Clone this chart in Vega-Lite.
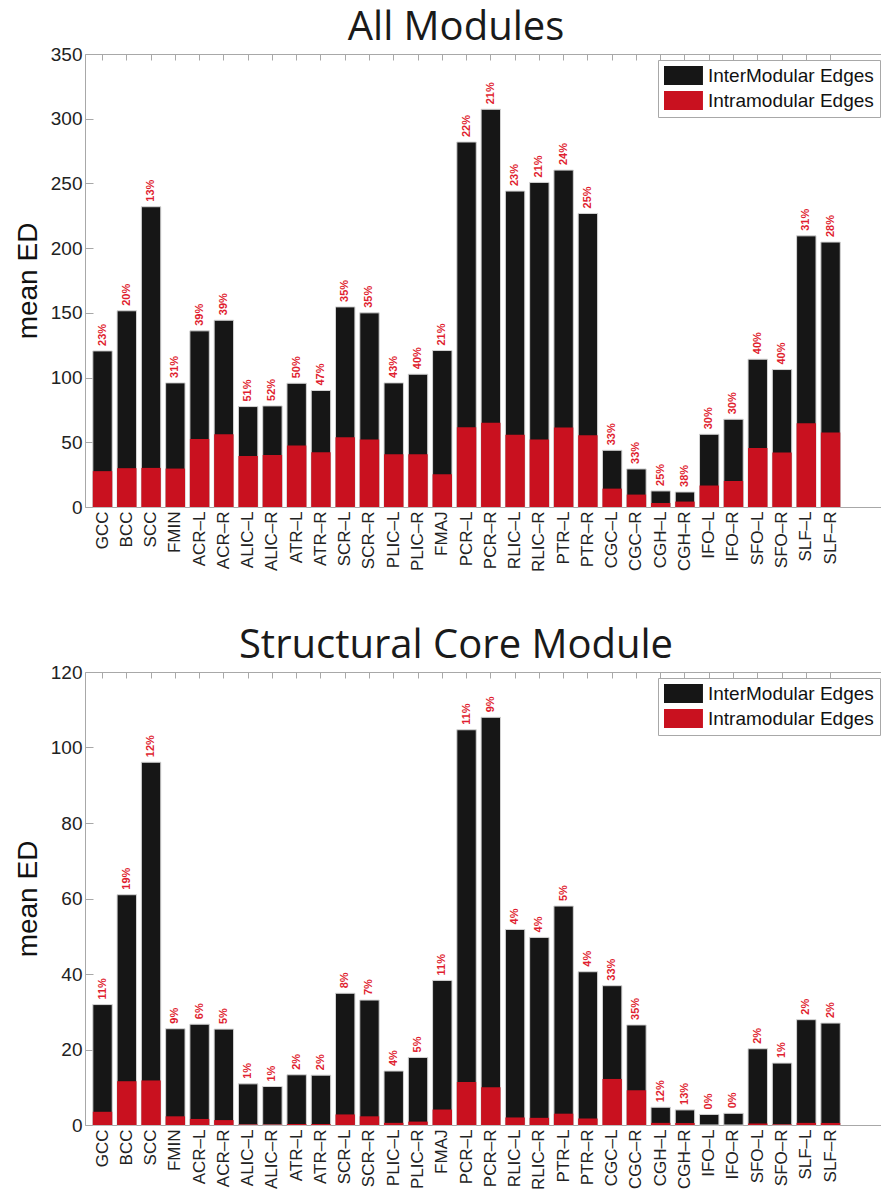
{
  "$schema": "https://vega.github.io/schema/vega-lite/v6.json",
  "background": "white",
  "padding": {"left": 14, "top": 8, "right": 0, "bottom": 0},
  "spacing": 54,
  "config": {
    "view": {"stroke": null},
    "font": "Liberation Sans",
    "title": {"font": "Open Sans", "fontSize": 40, "fontWeight": "normal", "color": "#1a1a1a", "anchor": "middle", "dx": -27, "offset": -3, "baseline": "alphabetic"},
    "axis": {"domainColor": "#a8a8a8", "tickColor": "#a8a8a8", "labelColor": "#222222", "titleColor": "#111111", "grid": false, "labelFont": "Liberation Sans", "titleFont": "Liberation Sans"},
    "legend": {"orient": "none", "legendX": 573, "legendY": 6, "title": null, "direction": "vertical", "symbolType": "M-1,-1H3.1V1H-1Z", "symbolSize": 361, "symbolStrokeWidth": 0, "labelFontSize": 19, "labelFont": "Liberation Sans", "labelColor": "#111111", "labelOffset": 25, "labelLimit": 400, "rowPadding": 5, "padding": 6, "strokeColor": "#a8a8a8", "fillColor": "white"}
  },
  "resolve": {"scale": {"color": "independent", "x": "independent", "y": "independent"}, "legend": {"color": "independent"}},
  "datasets": {
    "all": [
      {"tract": "GCC", "total": 120.6, "intra": 27.7, "pct": "23%"},
      {"tract": "BCC", "total": 151.6, "intra": 30.0, "pct": "20%"},
      {"tract": "SCC", "total": 232.0, "intra": 30.2, "pct": "13%"},
      {"tract": "FMIN", "total": 95.9, "intra": 29.7, "pct": "31%"},
      {"tract": "ACR–L", "total": 136.1, "intra": 52.6, "pct": "39%"},
      {"tract": "ACR–R", "total": 144.3, "intra": 56.2, "pct": "39%"},
      {"tract": "ALIC–L", "total": 77.6, "intra": 39.5, "pct": "51%"},
      {"tract": "ALIC–R", "total": 78.1, "intra": 40.2, "pct": "52%"},
      {"tract": "ATR–L", "total": 95.6, "intra": 47.5, "pct": "50%"},
      {"tract": "ATR–R", "total": 90.0, "intra": 42.3, "pct": "47%"},
      {"tract": "SCR–L", "total": 154.6, "intra": 53.9, "pct": "35%"},
      {"tract": "SCR–R", "total": 150.0, "intra": 52.1, "pct": "35%"},
      {"tract": "PLIC–L", "total": 95.9, "intra": 40.8, "pct": "43%"},
      {"tract": "PLIC–R", "total": 102.6, "intra": 40.8, "pct": "40%"},
      {"tract": "FMAJ", "total": 120.9, "intra": 25.3, "pct": "21%"},
      {"tract": "PCR–L", "total": 282.0, "intra": 61.6, "pct": "22%"},
      {"tract": "PCR–R", "total": 307.3, "intra": 65.0, "pct": "21%"},
      {"tract": "RLIC–L", "total": 244.1, "intra": 55.8, "pct": "23%"},
      {"tract": "RLIC–R", "total": 250.8, "intra": 52.1, "pct": "21%"},
      {"tract": "PTR–L", "total": 260.3, "intra": 61.5, "pct": "24%"},
      {"tract": "PTR–R", "total": 226.8, "intra": 55.5, "pct": "25%"},
      {"tract": "CGC–L", "total": 43.8, "intra": 14.2, "pct": "33%"},
      {"tract": "CGC–R", "total": 29.4, "intra": 9.6, "pct": "33%"},
      {"tract": "CGH–L", "total": 12.4, "intra": 3.1, "pct": "25%"},
      {"tract": "CGH–R", "total": 11.6, "intra": 4.2, "pct": "38%"},
      {"tract": "IFO–L", "total": 56.2, "intra": 16.6, "pct": "30%"},
      {"tract": "IFO–R", "total": 67.8, "intra": 20.1, "pct": "30%"},
      {"tract": "SFO–L", "total": 114.2, "intra": 45.5, "pct": "40%"},
      {"tract": "SFO–R", "total": 106.2, "intra": 42.2, "pct": "40%"},
      {"tract": "SLF–L", "total": 209.5, "intra": 64.8, "pct": "31%"},
      {"tract": "SLF–R", "total": 204.7, "intra": 57.5, "pct": "28%"}
    ],
    "core": [
      {"tract": "GCC", "total": 31.9, "intra": 3.5, "pct": "11%"},
      {"tract": "BCC", "total": 61.0, "intra": 11.6, "pct": "19%"},
      {"tract": "SCC", "total": 96.1, "intra": 11.8, "pct": "12%"},
      {"tract": "FMIN", "total": 25.5, "intra": 2.3, "pct": "9%"},
      {"tract": "ACR–L", "total": 26.7, "intra": 1.6, "pct": "6%"},
      {"tract": "ACR–R", "total": 25.4, "intra": 1.3, "pct": "5%"},
      {"tract": "ALIC–L", "total": 10.9, "intra": 0.11, "pct": "1%"},
      {"tract": "ALIC–R", "total": 10.2, "intra": 0.1, "pct": "1%"},
      {"tract": "ATR–L", "total": 13.3, "intra": 0.27, "pct": "2%"},
      {"tract": "ATR–R", "total": 13.2, "intra": 0.27, "pct": "2%"},
      {"tract": "SCR–L", "total": 34.9, "intra": 2.8, "pct": "8%"},
      {"tract": "SCR–R", "total": 33.1, "intra": 2.3, "pct": "7%"},
      {"tract": "PLIC–L", "total": 14.3, "intra": 0.57, "pct": "4%"},
      {"tract": "PLIC–R", "total": 17.9, "intra": 0.9, "pct": "5%"},
      {"tract": "FMAJ", "total": 38.3, "intra": 4.1, "pct": "11%"},
      {"tract": "PCR–L", "total": 104.7, "intra": 11.4, "pct": "11%"},
      {"tract": "PCR–R", "total": 108.0, "intra": 10.0, "pct": "9%"},
      {"tract": "RLIC–L", "total": 51.8, "intra": 2.0, "pct": "4%"},
      {"tract": "RLIC–R", "total": 49.7, "intra": 1.9, "pct": "4%"},
      {"tract": "PTR–L", "total": 58.0, "intra": 3.0, "pct": "5%"},
      {"tract": "PTR–R", "total": 40.6, "intra": 1.7, "pct": "4%"},
      {"tract": "CGC–L", "total": 36.9, "intra": 12.2, "pct": "33%"},
      {"tract": "CGC–R", "total": 26.5, "intra": 9.2, "pct": "35%"},
      {"tract": "CGH–L", "total": 4.7, "intra": 0.56, "pct": "12%"},
      {"tract": "CGH–R", "total": 4.0, "intra": 0.52, "pct": "13%"},
      {"tract": "IFO–L", "total": 2.8, "intra": 0, "pct": "0%"},
      {"tract": "IFO–R", "total": 3.1, "intra": 0, "pct": "0%"},
      {"tract": "SFO–L", "total": 20.2, "intra": 0.4, "pct": "2%"},
      {"tract": "SFO–R", "total": 16.4, "intra": 0.16, "pct": "1%"},
      {"tract": "SLF–L", "total": 27.9, "intra": 0.56, "pct": "2%"},
      {"tract": "SLF–R", "total": 27.0, "intra": 0.54, "pct": "2%"}
    ]
  },
  "vconcat": [
    {
      "title": "All Modules",
      "width": 796,
      "height": 453,
      "data": {"name": "all"},
      "resolve": {"axis": {"x": "independent", "y": "independent"}},
      "layer": [
        {
          "mark": {"type": "bar", "stroke": "#d4d4d4", "strokeWidth": 1},
          "encoding": {
            "x": {"field": "tract", "type": "nominal", "sort": null, "scale": {"paddingInner": 0.2, "paddingOuter": 1.9, "align": 0.161},
                  "axis": {"orient": "bottom", "title": null, "ticks": false, "domain": true, "labelAngle": 270, "labelAlign": "right", "labelBaseline": "middle", "labelFontSize": 17, "labelPadding": 4}},
            "y": {"field": "total", "type": "quantitative", "scale": {"domain": [0, 350], "nice": false},
                  "axis": {"orient": "left", "values": [0, 50, 100, 150, 200, 250, 300, 350], "tickSize": -8, "labelPadding": 11, "labelFontSize": 19, "title": "mean ED", "titleFontSize": 28, "titleFontWeight": "normal", "titlePadding": 8, "domain": true}},
            "color": {"datum": "InterModular Edges", "scale": {"domain": ["InterModular Edges", "Intramodular Edges"], "range": ["#161616", "#c9111f"]}, "legend": {}}
          }
        },
        {
          "mark": {"type": "bar"},
          "encoding": {
            "x": {"field": "tract", "type": "nominal", "sort": null,
                  "axis": {"orient": "top", "title": null, "labels": false, "ticks": true, "tickSize": -6, "domain": true}},
            "y": {"field": "intra", "type": "quantitative", "axis": null},
            "color": {"datum": "Intramodular Edges"}
          }
        },
        {
          "mark": {"type": "text", "angle": 270, "align": "left", "baseline": "middle", "dx": 5, "fontSize": 11, "fontWeight": "bold", "color": "#e01e30", "font": "Liberation Sans"},
          "encoding": {
            "x": {"field": "tract", "type": "nominal", "sort": null, "axis": null},
            "y": {"field": "total", "type": "quantitative", "axis": null},
            "text": {"field": "pct"}
          }
        }
      ]
    },
    {
      "title": "Structural Core Module",
      "width": 796,
      "height": 453,
      "data": {"name": "core"},
      "resolve": {"axis": {"x": "independent", "y": "independent"}},
      "layer": [
        {
          "mark": {"type": "bar", "stroke": "#d4d4d4", "strokeWidth": 1},
          "encoding": {
            "x": {"field": "tract", "type": "nominal", "sort": null, "scale": {"paddingInner": 0.2, "paddingOuter": 1.9, "align": 0.161},
                  "axis": {"orient": "bottom", "title": null, "ticks": false, "domain": true, "labelAngle": 270, "labelAlign": "right", "labelBaseline": "middle", "labelFontSize": 17, "labelPadding": 4}},
            "y": {"field": "total", "type": "quantitative", "scale": {"domain": [0, 120], "nice": false},
                  "axis": {"orient": "left", "values": [0, 20, 40, 60, 80, 100, 120], "tickSize": -8, "labelPadding": 11, "labelFontSize": 19, "title": "mean ED", "titleFontSize": 28, "titleFontWeight": "normal", "titlePadding": 8, "domain": true}},
            "color": {"datum": "InterModular Edges", "scale": {"domain": ["InterModular Edges", "Intramodular Edges"], "range": ["#161616", "#c9111f"]}, "legend": {}}
          }
        },
        {
          "mark": {"type": "bar"},
          "encoding": {
            "x": {"field": "tract", "type": "nominal", "sort": null,
                  "axis": {"orient": "top", "title": null, "labels": false, "ticks": true, "tickSize": -6, "domain": true}},
            "y": {"field": "intra", "type": "quantitative", "axis": null},
            "color": {"datum": "Intramodular Edges"}
          }
        },
        {
          "mark": {"type": "text", "angle": 270, "align": "left", "baseline": "middle", "dx": 5, "fontSize": 11, "fontWeight": "bold", "color": "#e01e30", "font": "Liberation Sans"},
          "encoding": {
            "x": {"field": "tract", "type": "nominal", "sort": null, "axis": null},
            "y": {"field": "total", "type": "quantitative", "axis": null},
            "text": {"field": "pct"}
          }
        }
      ]
    }
  ]
}
